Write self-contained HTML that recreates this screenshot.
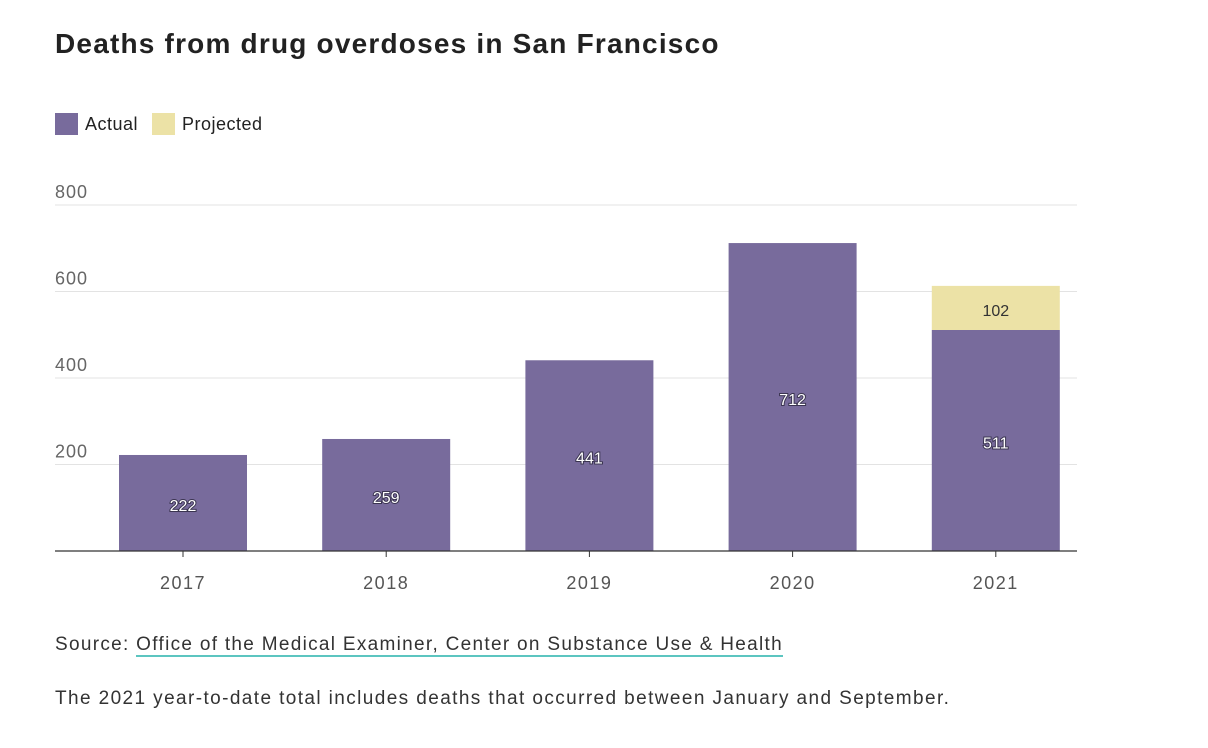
<!DOCTYPE html>
<html><head><meta charset="utf-8"><style>
body{margin:0;background:#fff;width:1208px;height:748px;overflow:hidden;font-family:"Liberation Sans",sans-serif;color:#222}
#title{position:absolute;left:55px;top:28px;font-size:28px;font-weight:bold;margin:0;letter-spacing:1.2px}
.leg{position:absolute;top:113px;display:flex;align-items:center;font-size:18px;color:#222;letter-spacing:0.5px}
.sw{width:23px;height:22px;margin-right:7px}
.src{position:absolute;left:55px;font-size:19px;color:#333}
.src a{color:#333;text-decoration:none;border-bottom:2px solid #5cc5c0}
svg{position:absolute;left:0;top:0}
</style></head><body>
<h1 id="title">Deaths from drug overdoses in San Francisco</h1>
<div class="leg" style="left:55px"><div class="sw" style="background:#786b9c"></div>Actual</div>
<div class="leg" style="left:152px"><div class="sw" style="background:#ece2a6"></div>Projected</div>
<svg id="chart" width="1208" height="748"></svg>
<div class="src" style="top:634px;letter-spacing:1.3px">Source: <a>Office of the Medical Examiner, Center on Substance Use &amp; Health</a></div>
<div class="src" style="top:688px;letter-spacing:1.4px">The 2021 year-to-date total includes deaths that occurred between January and September.</div>
<script>
const years=["2017","2018","2019","2020","2021"];
const actual=[222,259,441,712,511];
const projected=[0,0,0,0,102];
const yTicks=[200,400,600,800];
const NS="http://www.w3.org/2000/svg";
const svg=document.getElementById('chart');
const y0=551,yTop=205,yMax=800;
const y=v=>y0-(v/yMax)*(y0-yTop);
const x=i=>119+i*203.2;
const bw=128;
function mk(t,a){const e=document.createElementNS(NS,t);for(const k in a)e.setAttribute(k,a[k]);svg.appendChild(e);return e;}
yTicks.forEach(t=>{
 const l=mk('line',{x1:55,x2:1077,y1:y(t),y2:y(t),stroke:'#e3e3e3','stroke-width':1});
 
 
 const tx=mk('text',{x:55,y:y(t)-7,'font-size':18,fill:'#666','font-family':'Liberation Sans, sans-serif','letter-spacing':'1'});
 tx.textContent=t;
 
 
});
years.forEach((yr,i)=>{
 const b=mk('rect',{x:x(i),y:y(actual[i]),width:bw,height:y0-y(actual[i]),fill:'#786b9c'});
 
 
 if(projected[i]>0){
  const p=mk('rect',{x:x(i),y:y(actual[i]+projected[i]),width:bw,height:y(actual[i])-y(actual[i]+projected[i]),fill:'#ece2a6'});
  
  
  const pt=mk('text',{x:x(i)+bw/2,y:(y(actual[i])+y(actual[i]+projected[i]))/2+8,'text-anchor':'middle','font-size':16,fill:'#333','font-family':'Liberation Sans, sans-serif'});
  pt.textContent=projected[i];
  
  
 }
 const vt=mk('text',{x:x(i)+bw/2,y:(y(actual[i])+y0)/2+8,'text-anchor':'middle','font-size':16,fill:'#fff','font-family':'Liberation Sans, sans-serif',style:'paint-order:stroke',stroke:'#3a3450','stroke-width':2});
 vt.textContent=actual[i];
 
 
 mk('line',{x1:x(i)+bw/2,x2:x(i)+bw/2,y1:y0,y2:y0+6,stroke:'#333'});
 const xt=mk('text',{x:x(i)+bw/2,y:589,'text-anchor':'middle','font-size':18,fill:'#555','font-family':'Liberation Sans, sans-serif','letter-spacing':'1.5'});
 xt.textContent=yr;
 
 
});
const ax=mk('line',{x1:55,x2:1077,y1:y0,y2:y0,stroke:'#333','stroke-width':1.2});


</script>
</body></html>
